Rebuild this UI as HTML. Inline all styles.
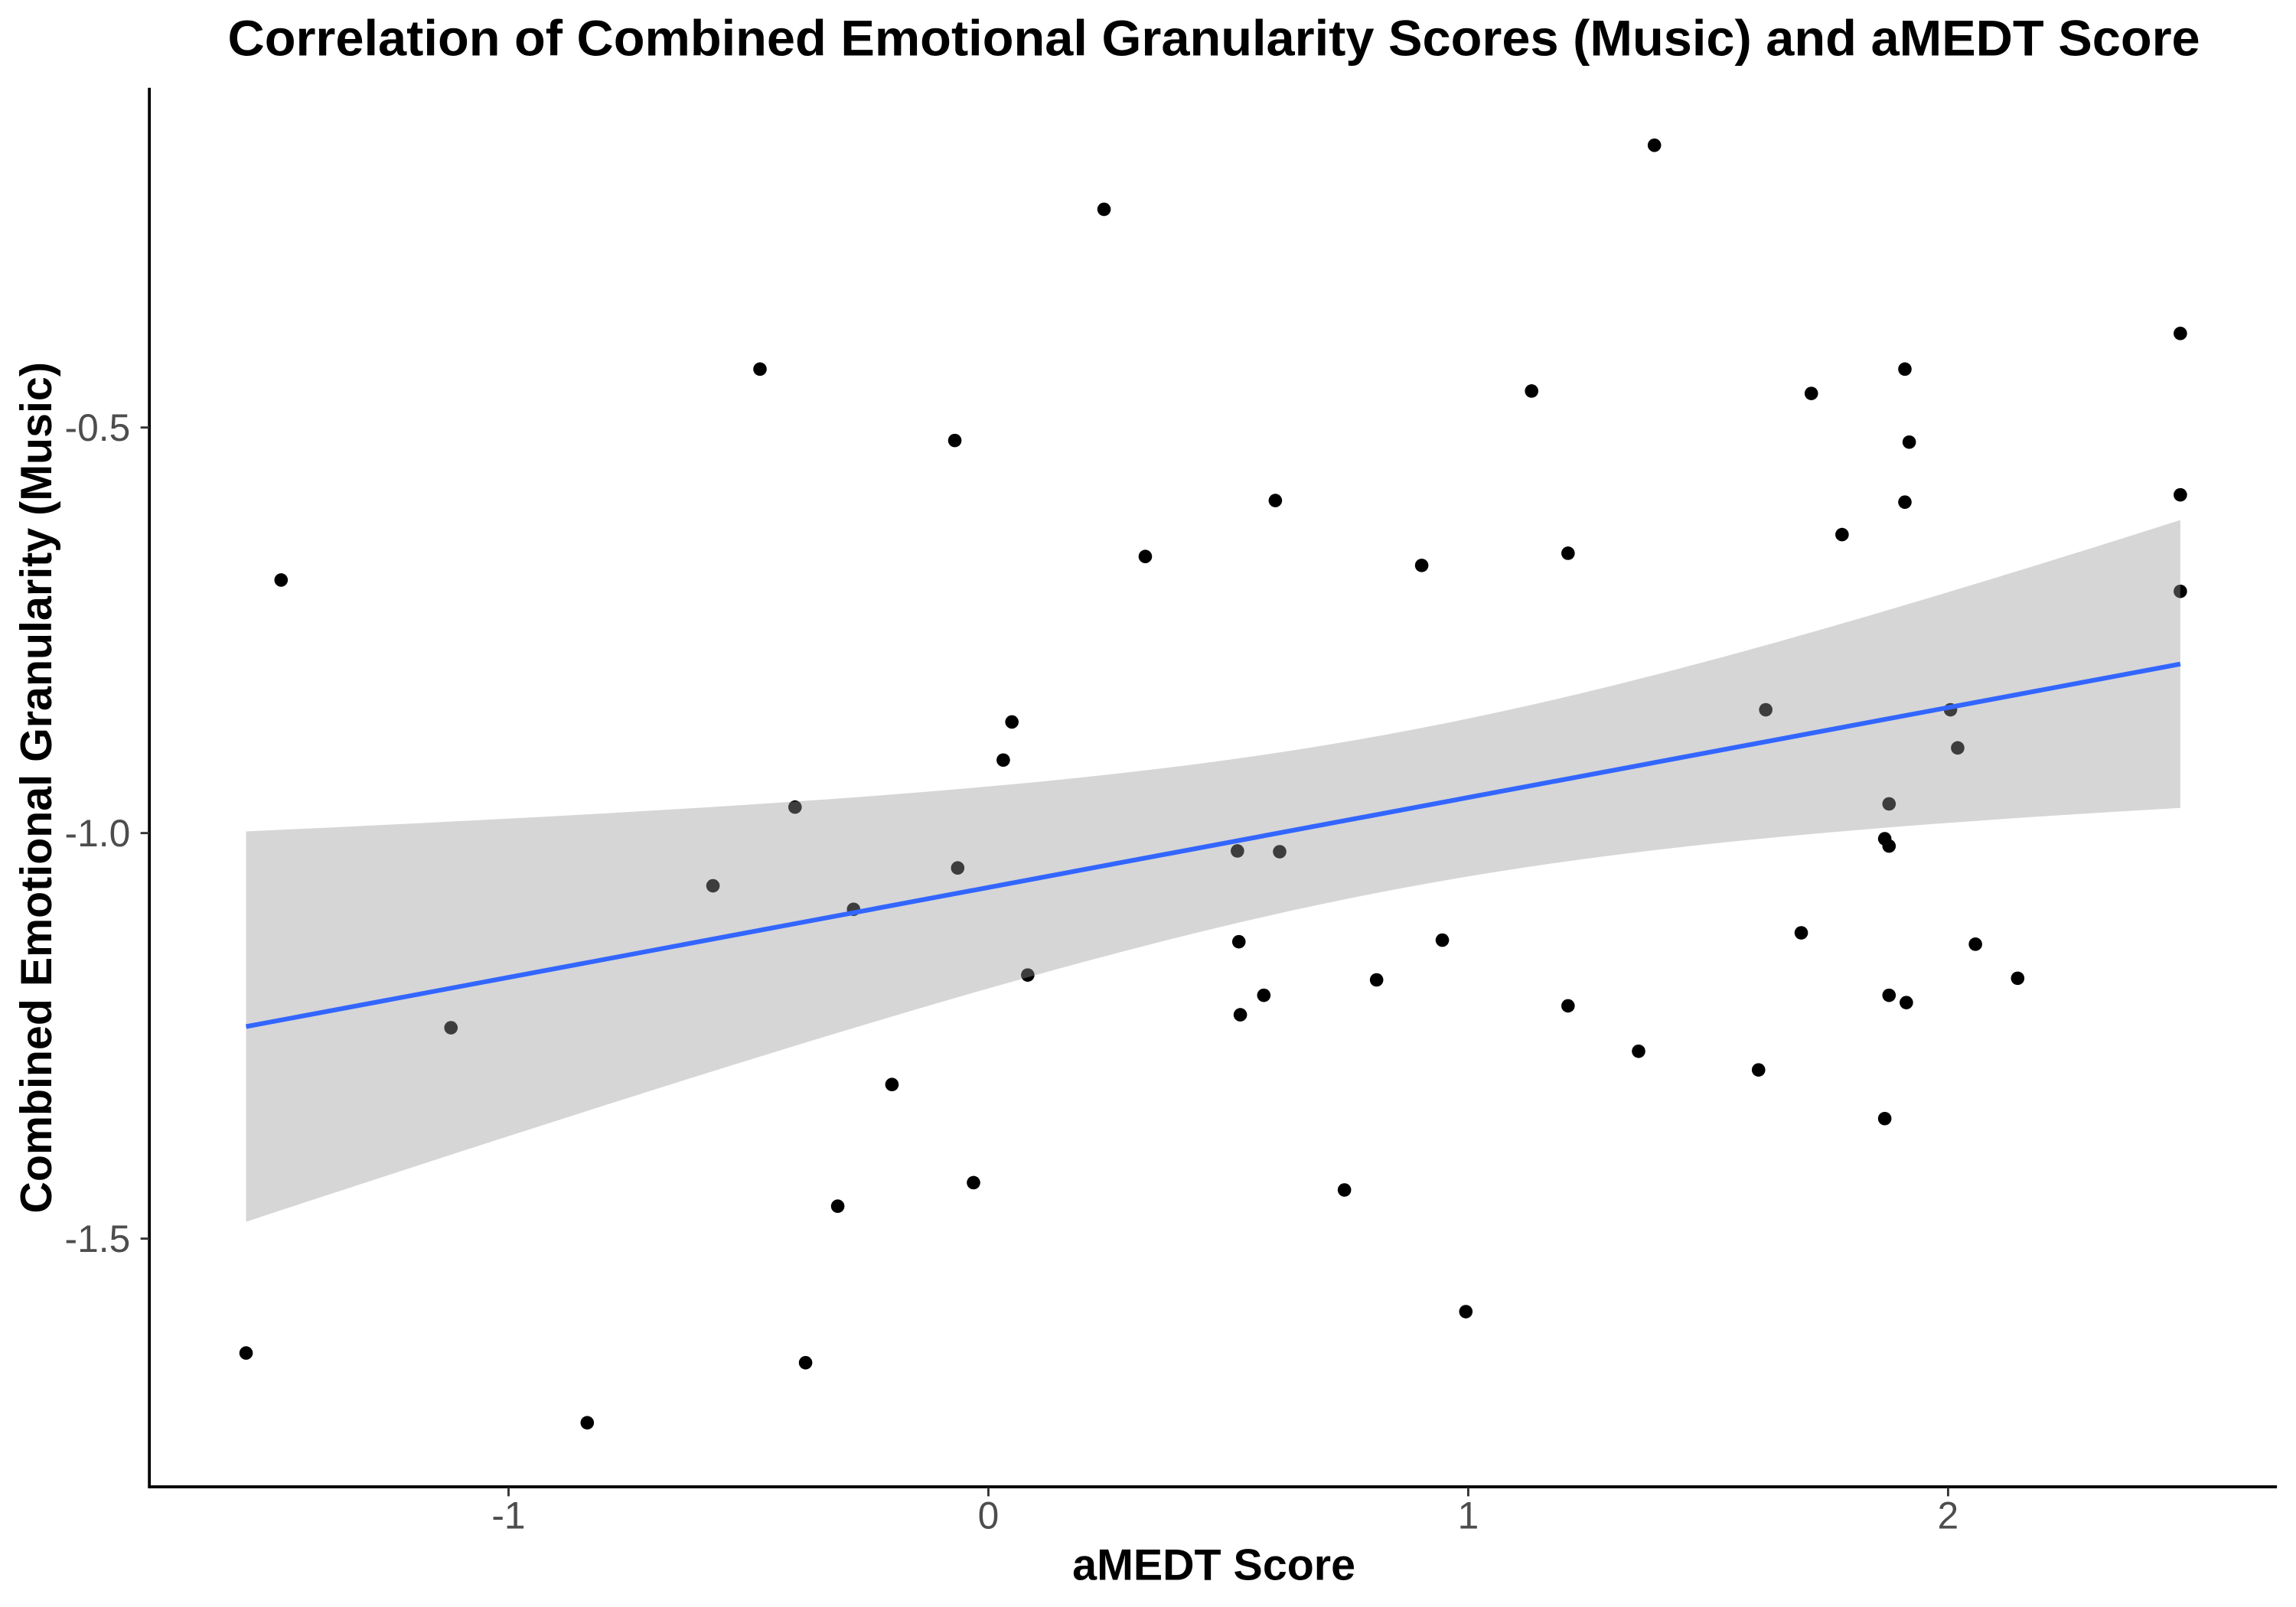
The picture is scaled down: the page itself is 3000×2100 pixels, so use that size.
<!DOCTYPE html>
<html><head><meta charset="utf-8"><style>
html,body{margin:0;padding:0;background:#fff;}
svg{display:block;font-family:"Liberation Sans",sans-serif;}
</style></head><body>
<svg id="chart" width="3000" height="2100" viewBox="0 0 1568 1097.6" xmlns="http://www.w3.org/2000/svg">
<rect width="1568" height="1097.6" fill="#fff"/>
<text x="829" y="38" text-anchor="middle" font-size="34.5" font-weight="bold" fill="#000" textLength="1347" lengthAdjust="spacingAndGlyphs">Correlation of Combined Emotional Granularity Scores (Music) and aMEDT Score</text>
<g id="points"></g>
<g id="band"></g>
<g id="axes"></g>
<text x="829" y="1079" text-anchor="middle" font-size="30" font-weight="bold" fill="#000">aMEDT Score</text>
<text transform="translate(35,538) rotate(-90)" text-anchor="middle" font-size="30" font-weight="bold" fill="#000">Combined Emotional Granularity (Music)</text>
</svg>
<script>
const xValues = [-1.547,-1.474,-1.120,-0.836,-0.574,-0.476,-0.403,-0.381,-0.314,-0.281,-0.201,-0.070,-0.064,-0.031,0.031,0.049,0.082,0.241,0.327,0.519,0.522,0.525,0.574,0.598,0.607,0.742,0.809,0.903,0.946,0.995,1.132,1.208,1.208,1.355,1.388,1.605,1.620,1.694,1.715,1.779,1.868,1.868,1.877,1.877,1.877,1.910,1.910,1.913,1.919,2.005,2.020,2.057,2.145,2.484,2.484,2.484];
const yValues = [-1.641,-0.688,-1.240,-1.727,-1.065,-0.428,-0.968,-1.653,-1.460,-1.094,-1.310,-0.516,-1.043,-1.431,-0.910,-0.863,-1.175,-0.231,-0.659,-1.022,-1.134,-1.224,-1.200,-0.590,-1.023,-1.440,-1.181,-0.670,-1.132,-1.590,-0.455,-0.655,-1.213,-1.269,-0.152,-1.292,-0.848,-1.123,-0.458,-0.632,-1.007,-1.352,-0.964,-1.016,-1.200,-0.428,-0.592,-1.209,-0.518,-0.848,-0.895,-1.137,-1.179,-0.384,-0.583,-0.702];
const xTicks = [-1,0,1,2];
const xTickLabels = ["-1","0","1","2"];
const yTicks = [-0.5,-1.0,-1.5];
const yTickLabels = ["-0.5","-1.0","-1.5"];

const NS="http://www.w3.org/2000/svg";
const sx = v => 675 + v*327.7;
const sy = v => 569 - (v+1)*554;
function mk(tag, attrs, parent){const e=document.createElementNS(NS,tag);for(const k in attrs)e.setAttribute(k,attrs[k]);parent.appendChild(e);return e;}

const pts=document.getElementById('points');
xValues.forEach((x,i)=>{
  const c=mk('circle',{cx:sx(x),cy:sy(yValues[i]),r:4.6,fill:'#000'},pts);
  
  
});

const n=xValues.length;
const mx=xValues.reduce((a,b)=>a+b,0)/n, my=yValues.reduce((a,b)=>a+b,0)/n;
let sxx=0,sxy=0;for(let i=0;i<n;i++){sxx+=(xValues[i]-mx)**2;sxy+=(xValues[i]-mx)*(yValues[i]-my);}
const b=sxy/sxx,a=my-b*mx;
let sse=0;for(let i=0;i<n;i++)sse+=(yValues[i]-a-b*xValues[i])**2;
const s=Math.sqrt(sse/(n-2)),t=2.005;
const xmin=Math.min(...xValues),xmax=Math.max(...xValues);
const up=[],lo=[];
for(let k=0;k<=80;k++){const x=xmin+(xmax-xmin)*k/80;const f=a+b*x;const se=s*Math.sqrt(1/n+(x-mx)**2/sxx);up.push([sx(x),sy(f+t*se)]);lo.push([sx(x),sy(f-t*se)]);}
const band=document.getElementById('band');
const poly=mk('polygon',{points:up.concat(lo.reverse()).map(p=>p.join(',')).join(' '),fill:'#999999','fill-opacity':0.4},band);


const ln=mk('line',{x1:sx(xmin),y1:sy(a+b*xmin),x2:sx(xmax),y2:sy(a+b*xmax),stroke:'#3366FF','stroke-width':3.2},band);



const ax=document.getElementById('axes');
const xl=mk('line',{x1:102,y1:1015.5,x2:1555,y2:1015.5,stroke:'#000','stroke-width':2},ax);


const yl=mk('line',{x1:102,y1:60,x2:102,y2:1016.5,stroke:'#000','stroke-width':2},ax);


xTicks.forEach((v,i)=>{
  const tk=mk('line',{x1:sx(v),y1:1016,x2:sx(v),y2:1022,stroke:'#333','stroke-width':1.5},ax);
  
  
  const tx=mk('text',{x:sx(v),y:1044,'text-anchor':'middle','font-size':26,fill:'#4d4d4d'},ax);
  tx.textContent=xTickLabels[i];
  
  
});
yTicks.forEach((v,i)=>{
  const tk=mk('line',{x1:96,y1:sy(v),x2:102,y2:sy(v),stroke:'#333','stroke-width':1.5},ax);
  
  
  const tx=mk('text',{x:89,y:sy(v)+9,'text-anchor':'end','font-size':26,fill:'#4d4d4d'},ax);
  tx.textContent=yTickLabels[i];
  
  
});
</script>
</body></html>
